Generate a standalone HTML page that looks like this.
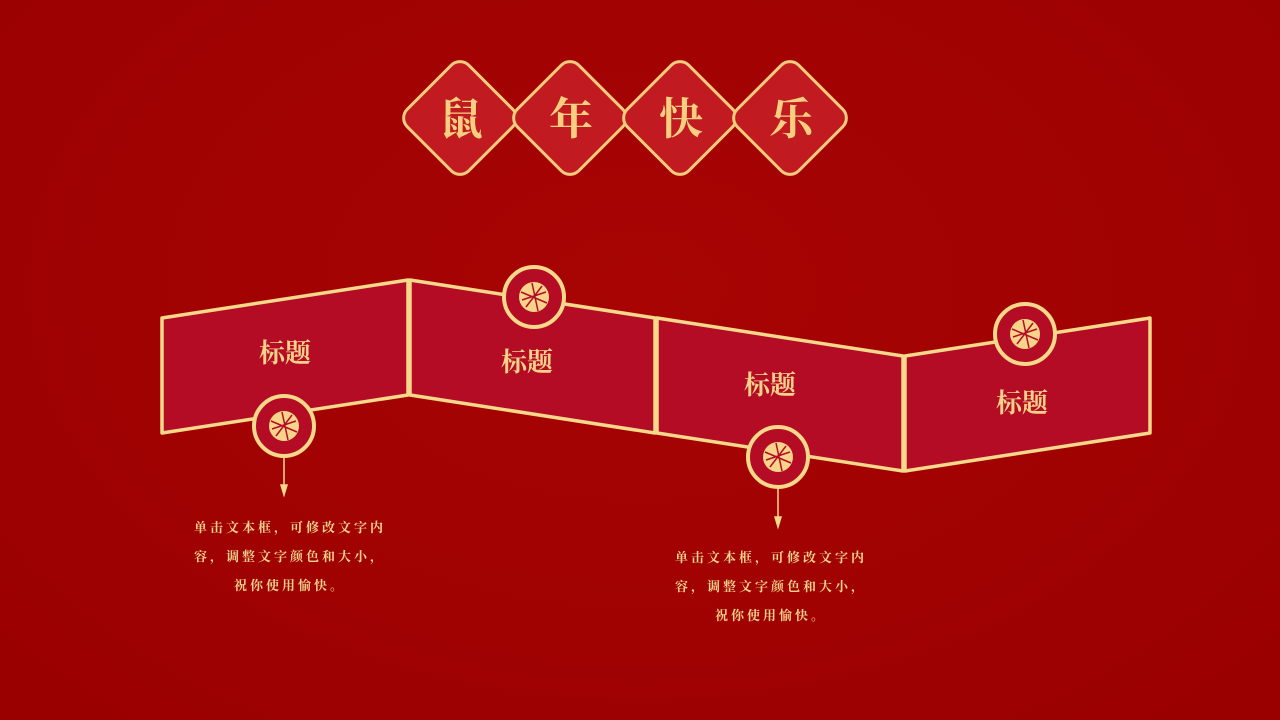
<!DOCTYPE html>
<html><head><meta charset="utf-8"><style>
html,body{margin:0;padding:0}
body{width:1280px;height:720px;overflow:hidden;background:radial-gradient(ellipse at 50% 40%,#a80404,#9a0000);position:relative;font-family:"Liberation Sans","Noto Serif CJK SC","Noto Sans CJK SC",sans-serif}
.d{position:absolute;width:90px;height:90px;background:#c11a20;border:3px solid #f5cc7e;border-radius:14px;transform:rotate(45deg);box-sizing:border-box}
.dc{position:absolute;width:110px;text-align:center;font-size:44px;font-weight:bold;color:#f8cf80;line-height:50px}
.t{position:absolute;font-size:26px;font-weight:bold;color:#f8d28a;width:120px;text-align:center;line-height:30px}
.p{position:absolute;font-size:13px;font-weight:bold;color:#f6d38c;letter-spacing:3px;text-align:center;line-height:29px;width:260px;white-space:nowrap}
</style></head><body>
<div class="d" style="left:415px;top:73px"></div>
<div class="d" style="left:525px;top:73px"></div>
<div class="d" style="left:635px;top:73px"></div>
<div class="d" style="left:745px;top:73px"></div>
<div class="dc" style="left:406px;top:95px">鼠</div>
<div class="dc" style="left:516px;top:95px">年</div>
<div class="dc" style="left:626px;top:95px">快</div>
<div class="dc" style="left:736px;top:95px">乐</div>
<svg width="1280" height="720" style="position:absolute;left:0;top:0">
<g fill="#b30c24" stroke="#f6d88a" stroke-width="3.5" stroke-linejoin="round">
<polygon points="162,318 408,280 408,395 162,433"/>
<polygon points="410,280 655,318 655,433 410,395"/>
<polygon points="657,318 903,356 903,471 657,433"/>
<polygon points="905,356 1150,318 1150,433 905,471"/>
</g>
<g stroke="#f6d88a" stroke-width="1.5" fill="#f6d88a">
<line x1="284" y1="456" x2="284" y2="488"/><polygon points="281,485 287,485 284,495"/>
<line x1="778" y1="488" x2="778" y2="520"/><polygon points="775,517 781,517 778,527"/>
</g>
<g fill="#b30c24" stroke="#f6d88a" stroke-width="4">
<circle cx="284" cy="426" r="30"/><circle cx="534" cy="297" r="30"/>
<circle cx="778" cy="457" r="30"/><circle cx="1025" cy="334" r="30"/>
</g>
<g fill="#f8d38a">
<circle cx="284" cy="426" r="15"/><circle cx="534" cy="297" r="15"/>
<circle cx="778" cy="457" r="15"/><circle cx="1025" cy="334" r="15"/>
</g>
<g stroke="#b30c24" stroke-width="1.5" fill="none">
<path d="M271,421 L297,432 M276,436 L292,415 M272,429 L296,421 M282,412 L288,440"/>
<path d="M521,292 L547,303 M526,307 L542,286 M522,300 L546,292 M532,283 L538,311"/>
<path d="M765,452 L791,463 M770,467 L786,446 M766,460 L790,452 M776,443 L782,471"/>
<path d="M1012,329 L1038,340 M1017,344 L1033,323 M1013,337 L1037,329 M1023,320 L1029,348"/>
</g>
</svg>
<div class="t" style="left:225px;top:338px">标题</div>
<div class="t" style="left:467px;top:347px">标题</div>
<div class="t" style="left:710px;top:370px">标题</div>
<div class="t" style="left:962px;top:388px">标题</div>
<div class="p" style="left:160px;top:513px">单击文本框，可修改文字内<br>容，调整文字颜色和大小，<br>祝你使用愉快。</div>
<div class="p" style="left:641px;top:543px">单击文本框，可修改文字内<br>容，调整文字颜色和大小，<br>祝你使用愉快。</div>
</body></html>
